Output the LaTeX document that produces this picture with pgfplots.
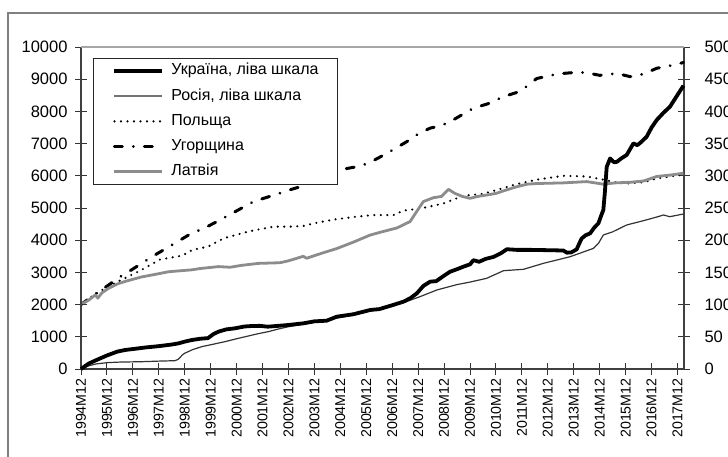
\documentclass[border=0pt]{standalone}
\usepackage{fontspec}
\setmainfont{Liberation Sans}
\usepackage{pgfplots}
\pgfplotsset{compat=1.18}
\tikzset{
  ukr/.style={black, line width=3.8pt, line join=round},
  rus/.style={black!80, line width=1.2pt, line join=round},
  pol/.style={black, line width=2.4pt, line cap=round, dash pattern=on 0pt off 6.5pt},
  hun/.style={black, line width=3pt, line cap=round, dash pattern=on 8pt off 11pt on 0.01pt off 11pt},
  lat/.style={black!45, line width=2.8pt, line join=round},
}
\pgfplotsset{
  common/.style={
    scale only axis, width=603pt, height=322pt,
    at={(81pt,87pt)}, anchor=south west,
    xmin=0, xmax=23.25, ymin=0,
    tick align=center, major tick length=12pt,
    every tick/.style={black!80, line width=1pt},
    axis line style={black!75, line width=1.3pt},
    scaled y ticks=false,
    yticklabel={\fontsize{16.5}{16.5}\selectfont\pgfmathprintnumber[assume math mode=true,1000 sep={}]{\tick}},
    yticklabel style={text=black},
    clip=false,
  },
}
\begin{document}
\begin{tikzpicture}[x=1pt,y=1pt]
\useasboundingbox (0,0) rectangle (728,456);
\draw[black!50, line width=1.8pt] (8,-5) -- (8,443) -- (740,443);
% right scale: Poland, Hungary, Latvia
\begin{axis}[common,
  ymax=500, ytick={0,50,...,500},
  axis y line*=right, axis x line*=bottom,
  xtick={0,...,23},
  xticklabel={\pgfmathtruncatemacro\yr{1994+\tick}\fontsize{14.2}{14.2}\selectfont\yr M12},
  xticklabel style={rotate=90, anchor=east, text=black},
  yticklabel style={xshift=11pt},
  legend image code/.code={\draw[#1] (0pt,0pt) -- (48pt,0pt);},
  legend cell align=left,
  legend style={at={(0.02,0.966)}, anchor=north west, draw=black!85, line width=1pt, fill=white,
    font=\fontsize{16}{16}\selectfont, row sep=10.2pt, column sep=7pt,
    inner xsep=19pt, inner ysep=5pt,
    nodes={inner sep=0pt, text height=11.5pt, text depth=3.5pt}},
]
\addlegendimage{ukr}
\addlegendentry{Україна, ліва шкала}
\addlegendimage{black!55, line width=1.8pt}
\addlegendentry{Росія, ліва шкала}
\addplot[pol] coordinates {
(0,100) (0.5,115) (1.0,127) (1.44,136) (2.34,154) (3.05,170) (3.62,174) (3.9,176) (4.3,185) (4.9,190)
(5.36,200) (5.6,204) (6.5,214) (7.42,221) (8.0,221) (8.57,222) (8.96,226) (9.73,232) (10.5,236)
(11.27,239) (12.05,239) (12.43,246) (13.07,249) (13.97,257) (14.74,269) (15.5,272) (16.03,278)
(16.8,287) (17.57,294) (18.6,300) (19.5,299) (20.14,294) (20.6,290) (21.04,288) (21.69,290)
(22.2,296) (23.23,302)};
\addlegendentry{Польща}
\addplot[hun] coordinates {
(0,100) (0.5,115) (1.05,130) (1.5,143) (1.95,154) (2.53,169) (2.85,177) (3.69,197) (4.27,211)
(4.72,218) (5.2,228) (5.75,240) (6.2,250) (6.65,260) (7.2,267) (7.67,273) (8.2,280) (8.7,286)
(9.1,295) (9.6,304) (10.2,311) (10.77,315) (11.2,322) (11.66,332) (12.1,342) (12.56,353) (13.0,365)
(13.46,374) (13.9,378) (14.36,387) (14.7,395) (15.13,405) (15.7,412) (16.29,423) (16.93,431)
(17.57,451) (18.1,456) (18.6,459) (19.2,461) (19.63,459) (20.0,456) (20.66,459) (21.17,454)
(21.69,458) (22.2,467) (22.97,473) (23.23,476)};
\addlegendentry{Угорщина}
\addplot[lat] coordinates {
(0,100) (0.3,107) (0.55,115) (0.65,110) (0.8,118) (1.05,125) (1.4,132) (1.7,136) (2.34,143)
(3.0,148) (3.37,151) (4.27,154) (4.59,156) (5.3,159) (5.75,158) (6.2,161) (6.84,164) (7.67,165)
(8.0,168) (8.57,175) (8.7,172) (9.3,180) (9.86,187) (10.5,197) (11.15,208) (11.6,213) (12.18,219)
(12.69,229) (12.95,245) (13.2,260) (13.59,266) (13.9,268) (14.17,279) (14.4,273) (14.7,268)
(15.0,265) (15.3,268) (15.77,271) (16.03,273) (16.4,278) (16.8,283) (17.2,287) (17.57,288)
(18.6,289) (19.5,291) (20.14,287) (20.6,289) (21.2,290) (21.7,292) (22.2,299) (22.7,301) (23.23,304)};
\addlegendentry{Латвія}
\end{axis}
% left scale: Ukraine, Russia
\begin{axis}[common,
  ymax=10000, ytick={0,1000,...,10000},
  axis y line*=left, axis x line=none,
  yticklabel style={xshift=-4pt},
]
\draw[black!35, line width=1.5pt] (rel axis cs:0,1) -- (rel axis cs:1,1);
\addplot[rus] coordinates {
(0,0) (0.3,100) (0.6,160) (1.05,200) (1.5,215) (2.34,227) (3.0,245) (3.62,258) (3.75,300) (3.9,430)
(4.0,490) (4.3,600) (4.65,693) (5.1,770) (5.55,849) (6.0,940) (6.45,1025) (6.85,1100) (7.22,1160)
(7.6,1240) (8.0,1314) (9.0,1450) (9.86,1580) (10.5,1680) (11.15,1800) (11.8,1940) (12.43,2060)
(13.07,2246) (13.72,2454) (14.49,2620) (15.0,2700) (15.64,2816) (16.29,3053) (17.06,3096)
(17.83,3282) (18.86,3488) (19.76,3747) (19.95,3900) (20.14,4162) (20.5,4260) (21.04,4473)
(21.69,4607) (22.2,4720) (22.46,4783) (22.7,4730) (23.23,4814)};
\addplot[ukr] coordinates {
(0,0) (0.3,170) (0.6,280) (1.0,420) (1.4,540) (1.7,590) (2.0,620) (2.5,670) (3.0,710) (3.5,760)
(3.75,795) (4.0,850) (4.27,900) (4.6,940) (4.9,960) (5.1,1080) (5.3,1160) (5.6,1230) (5.94,1264)
(6.3,1320) (6.58,1335) (6.9,1340) (7.2,1314) (7.6,1340) (8.0,1367) (8.57,1418) (9.0,1480) (9.47,1500)
(9.86,1625) (10.5,1700) (11.15,1833) (11.5,1860) (12.0,1980) (12.43,2090) (12.7,2200) (12.95,2350)
(13.2,2580) (13.46,2712) (13.7,2730) (14.0,2900) (14.23,3022) (14.5,3100) (14.74,3177) (15.0,3250)
(15.13,3380) (15.35,3330) (15.6,3420) (15.9,3480) (16.2,3600) (16.42,3720) (16.8,3700) (17.3,3700)
(18.0,3690) (18.6,3680) (18.73,3613) (18.9,3620) (19.11,3716) (19.3,4050) (19.45,4150) (19.63,4214)
(19.8,4400) (19.95,4525) (20.05,4750) (20.14,4939) (20.2,5500) (20.27,6279) (20.4,6538) (20.55,6420)
(20.66,6434) (20.85,6550) (21.04,6647) (21.3,7007) (21.45,6950) (21.6,7050) (21.81,7214) (22.0,7500)
(22.2,7734) (22.45,7950) (22.71,8148) (22.95,8450) (23.23,8800)};
\end{axis}
\end{tikzpicture}
\end{document}
